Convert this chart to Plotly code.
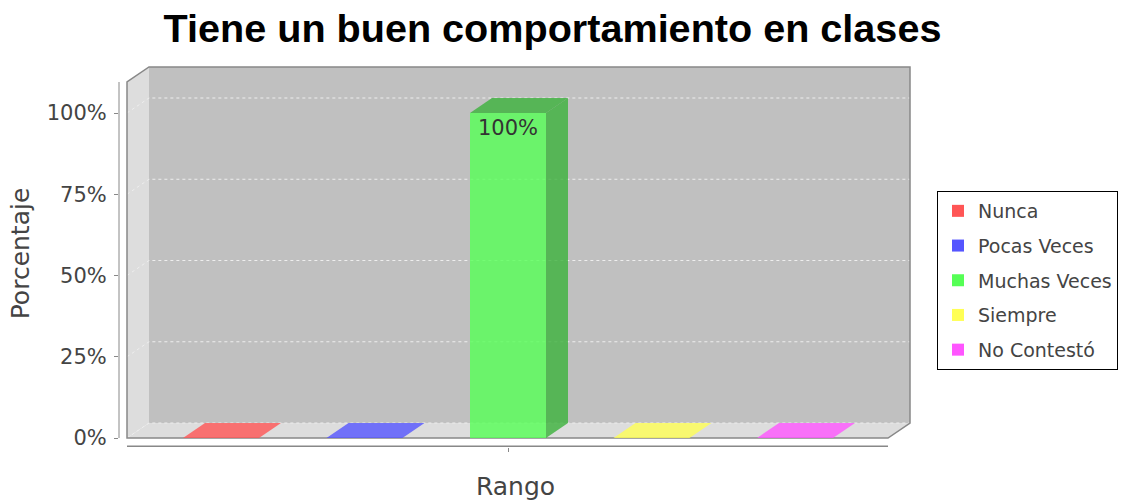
import plotly.graph_objects as go

# ---------------- data ----------------
chart_title = "Tiene un buen comportamiento en clases"
series_names = ["Nunca", "Pocas Veces", "Muchas Veces", "Siempre", "No Contestó"]
series_values = [0, 0, 100, 0, 0]
series_colors = ["#FF5555", "#5555FF", "#55FF55", "#FFFF55", "#FF55FF"]
y_tick_values = [0, 25, 50, 75, 100]
y_tick_labels = ["0%", "25%", "50%", "75%", "100%"]
x_axis_title = "Rango"
y_axis_title = "Porcentaje"

# ---------------- geometry (pixel -> data conversion) ----------------
SLOT_PX = 143.5          # pixels per category slot
PCT_PX = 3.25            # pixels per percent
BAR_W = 76 / SLOT_PX
DX = 22 / SLOT_PX        # 3D depth, horizontal
DY = 15 / PCT_PX         # 3D depth, vertical
CENTER = 2
FL = CENTER - 381 / SLOT_PX   # front-left of data area
FR = CENTER + 380 / SLOT_PX   # front-right of data area
YT = 356 / PCT_PX             # top of value axis
FIG_W, FIG_H = 1121, 501
PLOT_L, PLOT_R, PLOT_T, PLOT_B = 119, 912, 60, 447
X_RANGE = [CENTER - (508 - PLOT_L) / SLOT_PX, CENTER + (PLOT_R - 508) / SLOT_PX]
Y_RANGE = [-(PLOT_B - 438) / PCT_PX, (438 - PLOT_T) / PCT_PX]
ALPHA = 0.8


def rgba(hexc, a, factor=1.0):
    h = hexc.lstrip("#")
    r, g, b = (int(int(h[i:i + 2], 16) * factor) for i in (0, 2, 4))
    return f"rgba({r},{g},{b},{a})"


def path(points):
    return "M " + " L ".join(f"{x},{y}" for x, y in points) + " Z"


def open_path(points):
    return "M " + " L ".join(f"{x},{y}" for x, y in points)


fig = go.Figure()

shapes = []
# back wall
shapes.append(dict(type="path", xref="x", yref="y", layer="below",
                   path=path([(FL + DX, DY), (FR + DX, DY), (FR + DX, YT + DY), (FL + DX, YT + DY)]),
                   fillcolor="#c0c0c0", line=dict(width=0)))
# left wall
shapes.append(dict(type="path", xref="x", yref="y", layer="below",
                   path=path([(FL, 0), (FL + DX, DY), (FL + DX, YT + DY), (FL, YT)]),
                   fillcolor="#dddddd", line=dict(width=0)))
# floor
shapes.append(dict(type="path", xref="x", yref="y", layer="below",
                   path=path([(FL, 0), (FR, 0), (FR + DX, DY), (FL + DX, DY)]),
                   fillcolor="#dddddd", line=dict(width=0)))
# gridlines
for v in y_tick_values:
    shapes.append(dict(type="path", xref="x", yref="y", layer="below",
                       path=open_path([(FL, v), (FL + DX, v + DY), (FR + DX, v + DY)]),
                       line=dict(color="#eeeeee", width=1, dash="3px,3px")))
# outline
shapes.append(dict(type="path", xref="x", yref="y", layer="below",
                   path=path([(FL, 0), (FL, YT), (FL + DX, YT + DY), (FR + DX, YT + DY),
                              (FR + DX, DY), (FR, 0)]),
                   line=dict(color="#888888", width=1.5)))
# value axis line
shapes.append(dict(type="line", xref="paper", yref="y", x0=0, x1=0, y0=0, y1=YT,
                   line=dict(color="#888888", width=1)))
# category axis line
shapes.append(dict(type="line", xref="x", yref="paper", x0=FL, x1=FR, y0=0.002, y1=0.002,
                   line=dict(color="#888888", width=1.5)))

for i, (name, v, c) in enumerate(zip(series_names, series_values, series_colors)):
    # front face
    fig.add_trace(go.Bar(
        x=[i], y=[v], width=BAR_W, name=name, showlegend=False, legendgroup=name,
        marker=dict(color=rgba(c, ALPHA), line=dict(width=0)),
        text=[f"{v}%" if v > 0 else ""], textposition="inside", insidetextanchor="end",
        textfont=dict(family="DejaVu Sans", size=21, color="#333333"),
        hoverinfo="skip"))
    # legend proxy
    fig.add_trace(go.Bar(x=[None], y=[None], name=name, showlegend=True, legendgroup=name,
                         marker=dict(color=c, line=dict(width=0))))

for i, (name, v, c) in enumerate(zip(series_names, series_values, series_colors)):
    x0, x1 = i - BAR_W / 2, i + BAR_W / 2
    if v != 0:
        fig.add_trace(go.Scatter(
            x=[x1, x1 + DX, x1 + DX, x1, x1], y=[0, DY, v + DY, v, 0],
            mode="lines", fill="toself", fillcolor=rgba(c, ALPHA, 0.7),
            line=dict(width=0), showlegend=False, hoverinfo="skip"))
    top_col = rgba(c, ALPHA, 0.7) if v != 0 else rgba(c, ALPHA)
    fig.add_trace(go.Scatter(
        x=[x0, x1, x1 + DX, x0 + DX, x0], y=[v, v, v + DY, v + DY, v],
        mode="lines", fill="toself", fillcolor=top_col,
        line=dict(width=0), showlegend=False, hoverinfo="skip"))

fig.update_layout(
    width=FIG_W, height=FIG_H,
    margin=dict(l=PLOT_L, r=FIG_W - PLOT_R, t=PLOT_T, b=FIG_H - PLOT_B, pad=0, autoexpand=False),
    paper_bgcolor="white", plot_bgcolor="white",
    barmode="overlay",
    shapes=shapes,
    font=dict(family="DejaVu Sans", color="#444444"),
    title=dict(text=chart_title, x=552.5 / FIG_W, xref="container", xanchor="center",
               y=1 - 28 / FIG_H, yref="container", yanchor="middle",
               font=dict(family="Liberation Sans", size=39.6, color="black", weight="bold")),
    legend=dict(x=937 / FIG_W, xref="container", xanchor="left",
                y=1 - 280.5 / FIG_H, yref="container", yanchor="middle",
                bgcolor="white", bordercolor="black", borderwidth=1,
                font=dict(family="DejaVu Sans", size=19, color="#444444"),
                traceorder="grouped", tracegroupgap=7),
    xaxis=dict(range=X_RANGE, tickvals=[CENTER], ticktext=[""], ticks="outside", ticklen=4,
               tickcolor="#888888", showgrid=False, zeroline=False, showline=False,
               automargin=False, fixedrange=True,
               title=dict(text=x_axis_title, standoff=24,
                          font=dict(family="DejaVu Sans", size=25, color="#444444"))),
    yaxis=dict(range=Y_RANGE, tickvals=y_tick_values, ticktext=y_tick_labels,
               ticks="outside", ticklen=4, tickcolor="#888888", ticklabelstandoff=3,
               tickfont=dict(family="DejaVu Sans", size=21, color="#444444"),
               showgrid=False, zeroline=False, showline=False, automargin=False, fixedrange=True,
               title=dict(text=y_axis_title, standoff=10,
                          font=dict(family="DejaVu Sans", size=25, color="#444444"))),
)

fig.write_html("out.html", config={"displayModeBar": False},
               post_script="document.body.style.margin='0px';document.body.style.overflow='hidden';")
